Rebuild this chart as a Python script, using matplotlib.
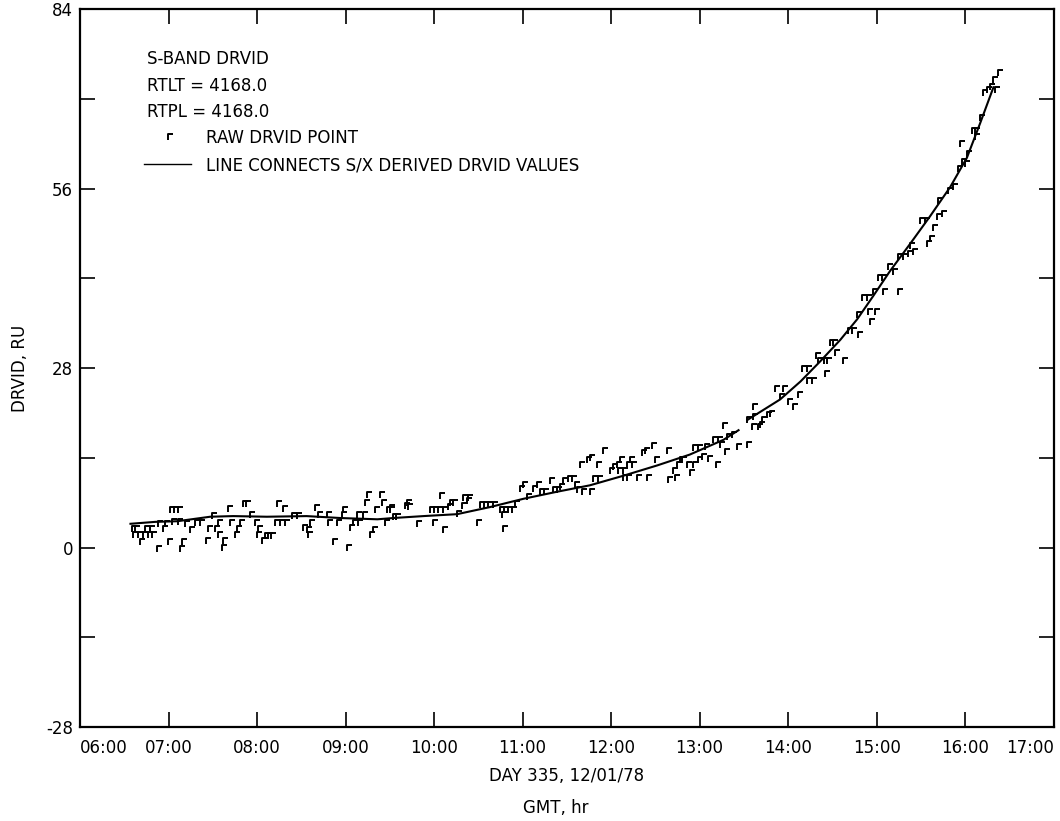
import matplotlib
matplotlib.use("Agg")
from matplotlib import pyplot as plt
from matplotlib.path import Path
from matplotlib.lines import Line2D
from matplotlib.ticker import FixedLocator, FuncFormatter
import numpy as np

plt.rcParams['font.family'] = ['DejaVu Sans']

# S/X derived DRVID line, two pieces (gap near 13:30)
line1_t = [6.57, 6.85, 7.10, 7.47, 7.73, 8.11, 8.56, 8.94, 9.36, 9.54, 9.88,
           10.26, 10.63, 11.01, 11.39, 11.76, 12.14, 12.52, 12.89, 13.27, 13.44]
line1_v = [3.7, 4.0, 4.1, 4.8, 4.9, 4.8, 4.9, 4.6, 4.4, 4.6, 4.9,
           5.2, 6.3, 7.6, 8.7, 9.7, 11.2, 12.8, 14.5, 16.8, 18.3]
line2_t = [13.54, 13.91, 14.14, 14.36, 14.59, 14.78, 14.96, 15.15, 15.38,
           15.60, 15.83, 16.02, 16.17, 16.32]
line2_v = [19.9, 23.1, 25.9, 29.0, 32.4, 35.6, 39.2, 43.1, 47.4,
           51.6, 56.2, 60.8, 66.2, 71.8]

# raw S-band DRVID points
raw_t = [6.59, 6.62, 6.60, 6.66, 6.71, 6.77, 6.81, 6.73, 6.79, 6.68, 6.87, 6.94,
         6.99, 7.02, 7.06, 7.11, 6.88, 6.96, 7.04, 7.11, 7.15, 7.13, 7.19, 7.24,
         7.30, 7.36, 7.42, 7.45, 7.53, 7.49, 7.56, 7.56, 7.62, 7.60, 7.67, 7.69,
         7.77, 7.75, 7.81, 7.84, 7.88, 7.92, 7.98, 8.00, 8.01, 8.06, 8.09, 8.12,
         8.16, 8.20, 8.26, 8.32, 8.23, 8.29, 8.40, 8.45, 8.52, 8.56, 8.58, 8.60,
         8.66, 8.69, 8.79, 8.80, 8.86, 8.90, 8.96, 8.97, 9.02, 9.05, 9.08, 9.14,
         9.13, 9.20, 9.24, 9.22, 9.28, 9.31, 9.33, 9.39, 9.41, 9.45, 9.47, 9.50,
         9.54, 9.57, 9.50, 9.67, 9.71, 9.69, 9.81, 9.99, 9.95, 10.00, 10.05, 10.10,
         10.16, 10.07, 10.10, 10.18, 10.21, 10.26, 10.32, 10.33, 10.38, 10.37,
         10.49, 10.52, 10.56, 10.61, 10.67, 10.75, 10.79, 10.84, 10.88, 10.77,
         10.78, 10.92, 10.97, 11.01, 11.05, 11.12, 11.16, 11.20, 11.24, 11.31,
         11.34, 11.39, 11.42, 11.46, 11.51, 11.56, 11.59, 11.62, 11.67, 11.76,
         11.65, 11.73, 11.76, 11.84, 11.80, 11.85, 11.91, 11.99, 12.02, 12.07,
         12.08, 12.14, 12.10, 12.14, 12.18, 12.18, 12.24, 12.21, 12.29, 12.41,
         12.35, 12.38, 12.46, 12.50, 12.63, 12.64, 12.72, 12.70, 12.75, 12.78,
         12.80, 12.86, 12.92, 12.89, 12.93, 12.98, 12.98, 13.03, 13.06, 13.10,
         13.18, 13.15, 13.21, 13.23, 13.27, 13.29, 13.31, 13.37, 13.42, 13.54,
         13.54, 13.60, 13.59, 13.66, 13.60, 13.68, 13.71, 13.76, 13.80, 13.85,
         13.94, 13.91, 14.00, 14.06, 14.11, 14.16, 14.21, 14.21, 14.27, 14.31,
         14.34, 14.42, 14.40, 14.44, 14.47, 14.51, 14.53, 14.62, 14.68, 14.72,
         14.79, 14.78, 14.84, 14.89, 14.90, 14.98, 14.93, 14.96, 15.02, 15.06,
         15.07, 15.24, 15.13, 15.18, 15.24, 15.30, 15.36, 15.41, 15.38, 15.49,
         15.55, 15.57, 15.60, 15.64, 15.68, 15.74, 15.69, 15.81, 15.86, 15.92,
         15.97, 16.00, 16.02, 15.94, 16.08, 16.11, 16.11, 16.17, 16.20, 16.25,
         16.28, 16.34, 16.32, 16.37]
raw_v = [2.9, 2.9, 2.0, 2.0, 2.0, 2.0, 2.0, 2.9, 2.9, 0.9, -0.2, 2.9,
         0.9, 5.9, 5.9, 5.9, 3.7, 3.7, 4.0, 4.0, 0.9, -0.2, 3.7, 2.8,
         3.8, 3.8, 1.0, 2.9, 2.9, 4.9, 3.8, 1.9, 1.0, -0.1, 6.0, 3.8,
         2.9, 1.9, 3.8, 6.8, 6.8, 5.1, 3.8, 1.9, 2.9, 1.0, 1.8, 1.8,
         1.8, 3.8, 3.8, 3.8, 6.8, 6.0, 4.9, 4.9, 3.0, 2.7, 1.9, 3.9,
         6.1, 5.0, 5.0, 3.9, 0.8, 3.9, 5.0, 5.8, -0.1, 3.0, 3.9, 3.9,
         5.0, 5.0, 8.2, 6.9, 1.9, 2.7, 5.8, 8.2, 6.9, 3.9, 5.8, 5.8,
         4.7, 4.7, 6.1, 6.4, 6.3, 7.0, 3.6, 3.9, 5.9, 5.9, 5.9, 5.9,
         6.3, 8.0, 2.8, 7.0, 7.0, 5.2, 6.4, 7.8, 7.8, 7.2,
         3.9, 6.7, 6.7, 6.7, 6.6, 5.8, 5.8, 5.8, 5.9, 5.0,
         2.9, 6.8, 9.2, 9.7, 7.9, 9.2, 9.7, 8.7, 8.7, 10.4,
         8.9, 8.9, 9.5, 10.4, 10.7, 10.7, 9.7, 8.9, 8.7, 8.7,
         12.8, 13.6, 13.9, 12.8, 10.7, 10.7, 15.1, 12.0, 12.5, 12.9,
         12.0, 12.0, 13.7, 10.9, 10.9, 12.9, 12.9, 13.7, 10.9, 10.9,
         14.8, 15.1, 15.9, 13.7, 15.1, 10.6, 10.9, 12.0, 12.9, 13.7,
         13.7, 12.8, 12.8, 11.7, 15.6, 15.6, 13.7, 14.1, 15.7, 13.8,
         12.9, 16.8, 16.8, 16.0, 19.0, 14.9, 17.3, 17.6, 15.7, 16.0,
         19.9, 21.9, 18.8, 18.8, 20.4, 19.1, 19.9, 20.7, 20.9, 24.8,
         24.8, 23.5, 22.7, 21.9, 23.8, 27.9, 27.9, 26.0, 26.0, 29.8,
         29.1, 27.0, 29.1, 29.1, 31.9, 31.9, 30.3, 29.1, 33.8, 33.8,
         33.1, 36.2, 38.9, 38.9, 36.7, 36.7, 35.2, 39.9, 42.1, 42.1,
         39.9, 39.9, 43.8, 43.0, 45.3, 45.3, 45.8, 46.1, 47.0, 50.9,
         50.9, 47.3, 48.1, 49.9, 51.5, 52.0, 54.1, 55.6, 56.3, 59.1,
         60.2, 59.8, 61.4, 62.9, 64.9, 64.9, 64.1, 67.0, 70.9, 71.4,
         71.9, 71.4, 73.0, 74.0]

hours = list(range(6, 18))
hour_labels = ['%02d:00' % h for h in hours]
y_ticks = list(range(-28, 85, 14))

# "r"-shaped plotting symbol
r_mark = Path([(0, -0.7), (0, 0.7), (1, 0.7)], [Path.MOVETO, Path.LINETO, Path.LINETO])

fig = plt.figure(figsize=(10.6, 8.21), dpi=100)
ax = fig.add_axes([0.0755, 0.1145, 0.9185, 0.8745])

ax.plot(raw_t, raw_v, linestyle='none', marker=r_mark, markersize=7,
        markerfacecolor='none', markeredgecolor='black', markeredgewidth=1.4)
ax.plot(line1_t, line1_v, color='black', lw=1.5)
ax.plot(line2_t, line2_v, color='black', lw=1.5)

ax.set_xlim(6, 17)
ax.set_ylim(-28, 84)
ax.set_xticks(hours)
ax.set_xticklabels(hour_labels)
xl = ax.get_xticklabels()
xl[0].set_ha('left')
xl[-1].set_ha('right')
ax.yaxis.set_major_locator(FixedLocator(y_ticks))
ax.yaxis.set_major_formatter(FuncFormatter(lambda v, p: '%d' % v if v % 28 == 0 else ''))
ax.tick_params(axis='x', direction='in', length=11, width=1.2, top=True, pad=9, labelsize=12)
ax.tick_params(axis='y', direction='in', length=11, width=1.2, right=True, pad=5, labelsize=12)
for s in ax.spines.values():
    s.set_linewidth(1.6)

ax.set_xlabel('DAY 335, 12/01/78', fontsize=12, labelpad=7)
ax.text(0.489, -0.113, 'GMT, hr', transform=ax.transAxes, ha='center', va='center', fontsize=12)
ax.set_ylabel('DRVID, RU', fontsize=12, labelpad=12)

ax.text(0.069, 0.930, 'S-BAND DRVID', transform=ax.transAxes, va='center', fontsize=12)
ax.text(0.069, 0.893, 'RTLT = 4168.0', transform=ax.transAxes, va='center', fontsize=12)
ax.text(0.069, 0.857, 'RTPL = 4168.0', transform=ax.transAxes, va='center', fontsize=12)

handles = [Line2D([], [], linestyle='none', marker=r_mark, markersize=7,
                  markerfacecolor='none', markeredgecolor='black', markeredgewidth=1.4),
           Line2D([], [], color='black', lw=1)]
ax.legend(handles, ['RAW DRVID POINT', 'LINE CONNECTS S/X DERIVED DRVID VALUES'],
          loc='upper left', bbox_to_anchor=(0.066, 0.833), frameon=False, fontsize=12,
          handlelength=2.8, handletextpad=0.9, labelspacing=0.55, borderpad=0, borderaxespad=0)

fig.savefig('out.png', dpi=100)
